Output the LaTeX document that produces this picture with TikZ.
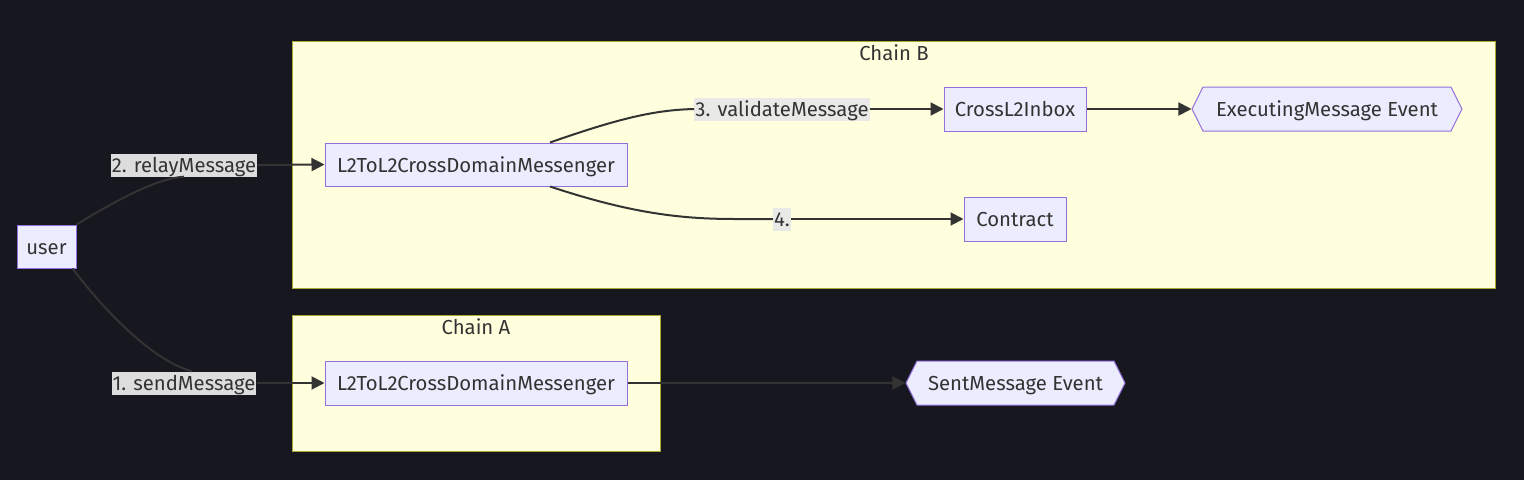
\documentclass[tikz,border=0pt]{standalone}
\usepackage{fontspec}
\setmainfont{Fira Sans}
\usetikzlibrary{shapes.symbols,arrows.meta}
\definecolor{bg}{HTML}{17181F}
\definecolor{clfill}{HTML}{FFFFDE}
\definecolor{clborder}{HTML}{AAAA33}
\definecolor{nfill}{HTML}{ECECFF}
\definecolor{nborder}{HTML}{9370DB}
\definecolor{edgec}{HTML}{333333}
\definecolor{txt}{HTML}{333333}
\definecolor{lblbg}{HTML}{E8E8E8}
\tikzset{
  fnt/.style={font=\fontsize{20.3}{23}\selectfont},
  box/.style={draw=nborder, fill=nfill, line width=1pt, text=txt, fnt, minimum height=44, inner sep=0pt, text height=17pt, text depth=2pt},
  hexa/.style={box, shape=signal, signal to=west and east, signal pointer angle=127},
  cluster/.style={draw=clborder, fill=clfill, line width=1pt},
  ctitle/.style={text=txt, fnt, inner sep=0pt},
  elabel/.style={fill=lblbg, fill opacity=0.95, text opacity=1, text=txt, fnt, inner xsep=1pt, inner ysep=2pt, text height=17pt, text depth=2pt},
  edge/.style={draw=edgec, line width=2pt},
  arr/.style={edge, -{Triangle[length=13pt,width=13pt]}}
}
\begin{document}
\begin{tikzpicture}[x=1pt,y=-1pt]
\useasboundingbox[fill=bg] (0,0) rectangle (1524,480);
% clusters
\node[cluster, minimum width=1203, minimum height=247, anchor=north west] (chainB) at (292,41) {};
\node[ctitle] (chainBt) at (894,53) {Chain B};
\node[cluster, minimum width=368, minimum height=136, anchor=north west] (chainA) at (292,315) {};
\node[ctitle] (chainAt) at (476,327) {Chain A};
% nodes
\node[box, minimum width=59, minimum height=43] (user) at (46.5,246.5) {user};
\node[box, minimum width=302, minimum height=43] (mB) at (476,164.5) {L2ToL2CrossDomainMessenger};
\node[box, minimum width=142] (cross) at (1015,109) {CrossL2Inbox};
\node[hexa, minimum width=270] (exec) at (1327,109) {ExecutingMessage Event};
\node[box, minimum width=102] (contract) at (1015,219) {Contract};
\node[box, minimum width=302] (mA) at (476,383) {L2ToL2CrossDomainMessenger};
\node[hexa, minimum width=219] (sent) at (1015.5,383) {SentMessage Event};
% edge labels
\node[elabel] (lb2) at (184,165) {2. relayMessage};
\node[elabel] (lb1) at (184,383) {1. sendMessage};
\node[elabel] (lb3) at (782,109) {3. validateMessage};
\node[elabel] (lb4) at (782,219) {4.};
% edges
\draw[edge] (user.north east) .. controls (125,195) and (160,178) .. (lb2.south);
\draw[arr] (lb2.east) -- (mB.west);
\draw[edge] ([xshift=-4pt]user.south east) .. controls (100,305) and (150,360) .. ([xshift=8pt]lb1.north);
\draw[arr] (lb1.east) -- (mA.west);
\draw[edge] ([xshift=74pt]mB.north) .. controls (620,118) and (655,110) .. (lb3.west);
\draw[arr] (lb3.east) -- (cross.west);
\draw[edge] ([xshift=74pt]mB.south) .. controls (630,213) and (680,219) .. (735,219) -- (lb4.west);
\draw[arr] (lb4.east) -- (contract.west);
\draw[arr] (cross.east) -- (exec.west);
\draw[arr] (mA.east) -- (sent.west);
\end{tikzpicture}
\end{document}
